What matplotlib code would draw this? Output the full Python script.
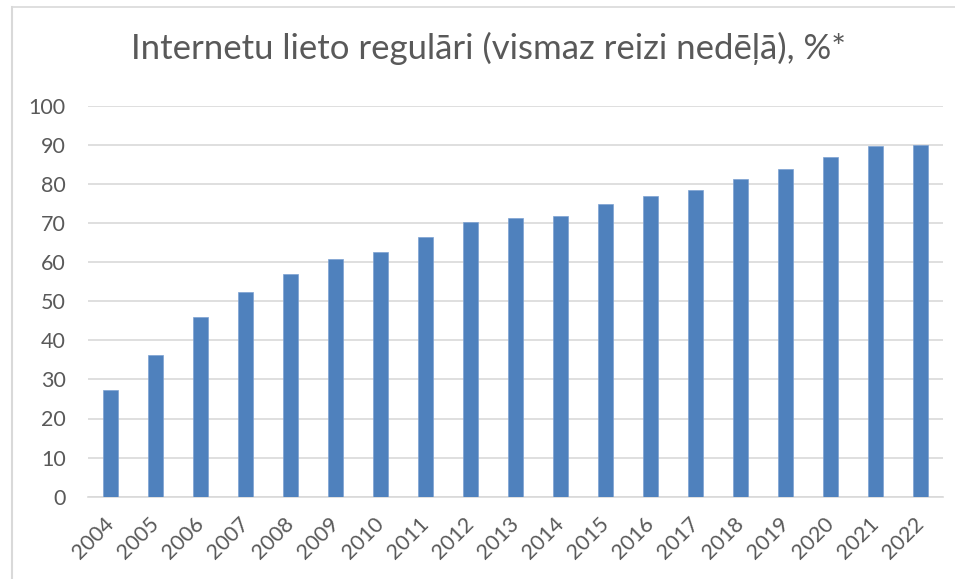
import matplotlib.pyplot as plt
import numpy as np
from matplotlib.lines import Line2D

# Data
years = [str(y) for y in range(2004, 2023)]
values = [27.4, 36.3, 46.0, 52.3, 57.0, 60.9, 62.5, 66.3, 70.3, 71.2,
          71.8, 74.9, 77.0, 78.5, 81.2, 83.7, 86.9, 89.7, 90.0]
yticks = list(range(0, 101, 10))

title = "Internetu lieto regulāri (vismaz reizi nedēļā), %*"

text_color = "#595959"
bar_color = "#4f81bd"
grid_color = "#d9d9d9"

plt.rcParams["font.family"] = ["Lato", "DejaVu Sans"]

fig = plt.figure(figsize=(9.55, 5.79), dpi=100)
ax = fig.add_axes([88 / 955, 1 - 496.7 / 579, 855 / 955, 391 / 579])

x = np.arange(len(years))
ax.bar(x, values, width=0.33, color=bar_color, edgecolor="#7da2d2", linewidth=0.5, zorder=3)

ax.set_xlim(-0.5, len(years) - 0.5)
ax.set_ylim(0, 100)
ax.set_yticks(yticks)
ax.set_yticklabels([str(t) for t in yticks])
ax.set_xticks(x)
ax.set_xticklabels(years, rotation=45, ha="right", va="center", rotation_mode="anchor")

ax.grid(axis="y", color=grid_color, linewidth=1.2, zorder=0)
for side in ["left", "right", "top"]:
    ax.spines[side].set_visible(False)
ax.spines["bottom"].set_color(grid_color)
ax.spines["bottom"].set_linewidth(1.2)
ax.tick_params(axis="both", length=0, labelsize=15.5, colors=text_color)
ax.tick_params(axis="y", pad=16)
ax.tick_params(axis="x", pad=17)

fig.text(488 / 955, 1 - 48 / 579, title, ha="center", va="center",
         fontsize=25, color=text_color)

# chart frame (left and top edges visible)
fig.add_artist(Line2D([12 / 955, 12 / 955], [0, 1 - 7 / 579], transform=fig.transFigure,
                      color="#d9d9d9", linewidth=1.5))
fig.add_artist(Line2D([12 / 955, 1], [1 - 7 / 579, 1 - 7 / 579], transform=fig.transFigure,
                      color="#d9d9d9", linewidth=1.2))

fig.savefig("out.png", dpi=100, facecolor="white")
